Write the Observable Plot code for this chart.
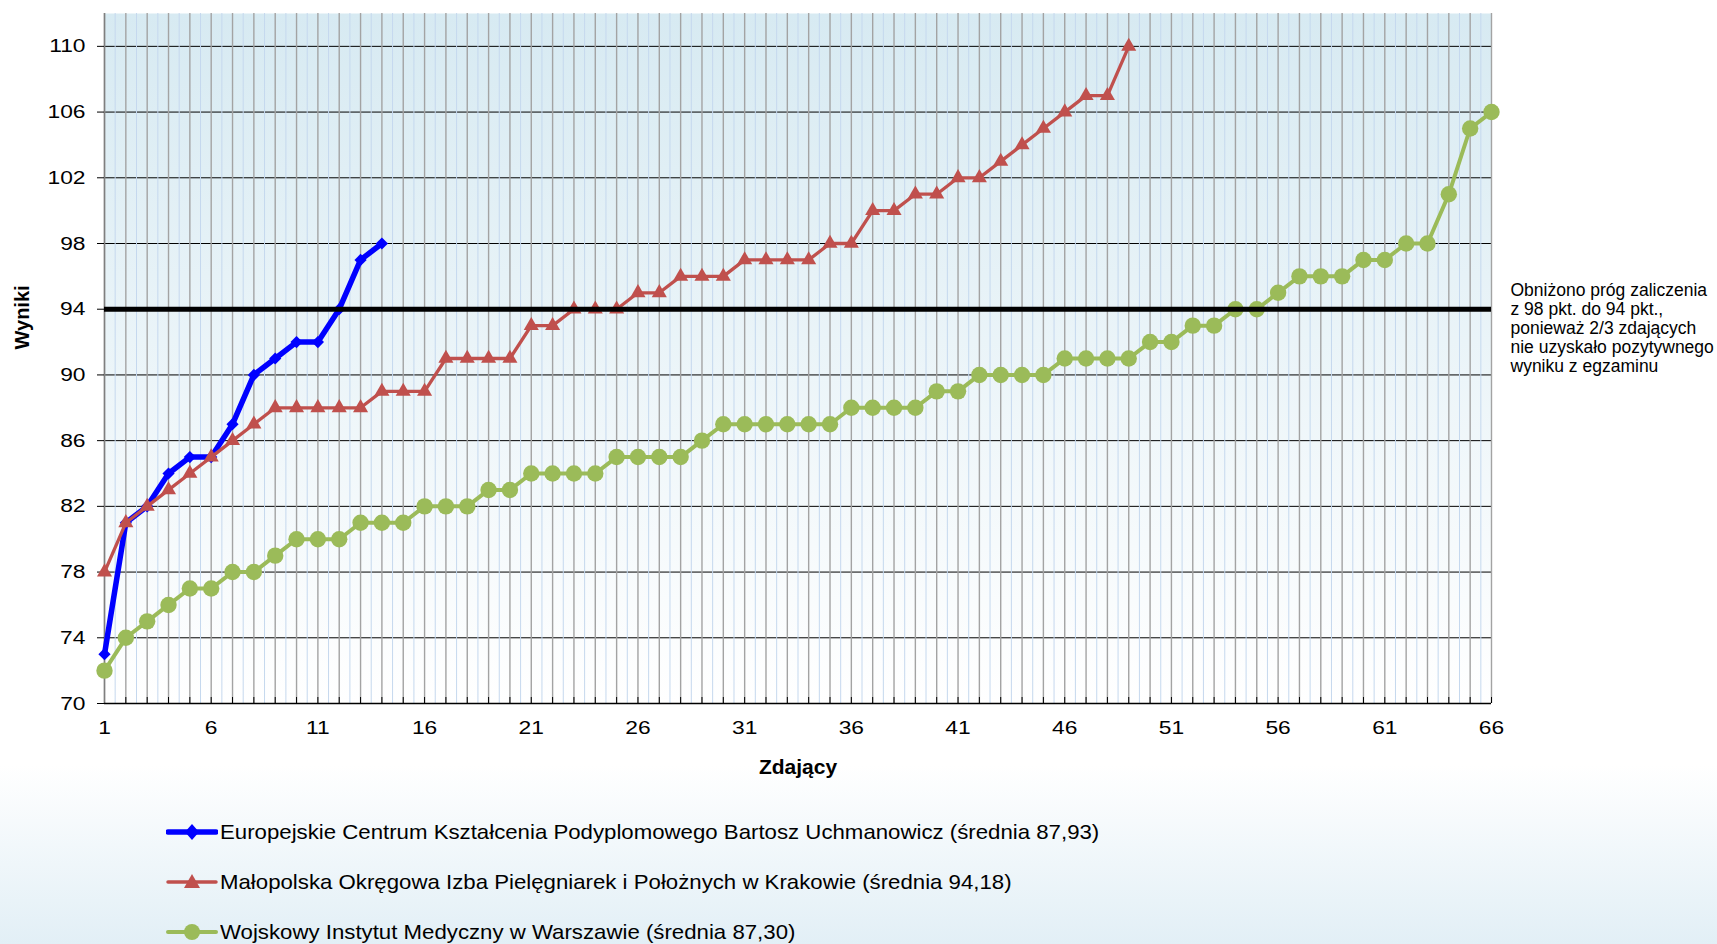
<!DOCTYPE html>
<html>
<head>
<meta charset="utf-8">
<script src="https://cdn.jsdelivr.net/npm/d3@7"></script>
<script src="https://cdn.jsdelivr.net/npm/@observablehq/plot@0.6"></script>
<style>
  html, body { margin: 0; padding: 0; }
  body {
    width: 1717px; height: 944px; overflow: hidden;
    font-family: "Liberation Sans", Arial, sans-serif;
    background: linear-gradient(to bottom, #ffffff 0px, #ffffff 765px, #e2eff6 944px);
  }
  #legend { position: relative; padding-top: 17px; }
  .row { height: 50px; display: flex; align-items: center; }
  .row svg { margin-left: 166px; width: 52px; height: 24px; flex: none; }
  .row span { margin-left: 2px; font-size: 21px; color: #000; white-space: nowrap;
    display: inline-block; transform: scaleX(1.058); transform-origin: left center; }
  #dbg { position: absolute; left: 300px; top: 300px; font-size: 12px; color: red; }
</style>
</head>
<body>
<div id="chart"></div>
<div id="legend"></div>
<script>
// ---- data ----
const seriesNames = [
  "Europejskie Centrum Kształcenia Podyplomowego Bartosz Uchmanowicz (średnia 87,93)",
  "Małopolska Okręgowa Izba Pielęgniarek i Położnych w Krakowie (średnia 94,18)",
  "Wojskowy Instytut Medyczny w Warszawie (średnia 87,30)"
];
const europejskie = [73, 81, 82, 84, 85, 85, 87, 90, 91, 92, 92, 94, 97, 98];
const malopolska = [78, 81, 82, 83, 84, 85, 86, 87, 88, 88, 88, 88, 88, 89, 89, 89, 91, 91, 91, 91,
  93, 93, 94, 94, 94, 95, 95, 96, 96, 96, 97, 97, 97, 97, 98, 98, 100, 100, 101, 101,
  102, 102, 103, 104, 105, 106, 107, 107, 110];
const wojskowy = [72, 74, 75, 76, 77, 77, 78, 78, 79, 80, 80, 80, 81, 81, 81, 82, 82, 82, 83, 83,
  84, 84, 84, 84, 85, 85, 85, 85, 86, 87, 87, 87, 87, 87, 87, 88, 88, 88, 88, 89,
  89, 90, 90, 90, 90, 91, 91, 91, 91, 92, 92, 93, 93, 94, 94, 95, 96, 96, 96, 97,
  97, 98, 98, 101, 105, 106];
const threshold = 94;
const yTicks = [70, 74, 78, 82, 86, 90, 94, 98, 102, 106, 110];
const xLabelTicks = [1, 6, 11, 16, 21, 26, 31, 36, 41, 46, 51, 56, 61, 66];
const xDomain = [1, 66];
const yDomain = [70, 112];
const note = "Obniżono próg zaliczenia\nz 98 pkt. do 94 pkt.,\nponieważ 2/3 zdających\nnie uzyskało pozytywnego\nwyniku z egzaminu";
const yTitle = "Wyniki";
const xTitle = "Zdający";

const colors = ["#0000ff", "#c0504d", "#9bbb59"];
const toRows = (arr) => arr.map((v, i) => ({x: i + 1, y: v}));
const s1 = toRows(europejskie), s2 = toRows(malopolska), s3 = toRows(wojskowy);
const intGrid = d3.range(xDomain[0], xDomain[1] + 1);
const halfGrid = d3.range(xDomain[0] + 0.5, xDomain[1], 1);

const defsMark = () => {
  const ns = "http://www.w3.org/2000/svg";
  const g = document.createElementNS(ns, "defs");
  g.innerHTML = '<linearGradient id="plotBg" x1="0" y1="0" x2="0" y2="1">' +
    '<stop offset="0" stop-color="#d7eaf2"/><stop offset="1" stop-color="#ffffff"/></linearGradient>';
  return g;
};

const chart = Plot.plot({
  width: 1717,
  height: 790,
  marginLeft: 104,
  marginRight: 226,
  marginTop: 13,
  marginBottom: 87,
  style: {fontFamily: "'Liberation Sans', Arial, sans-serif", fontSize: "19px", background: "transparent", color: "#000"},
  x: {domain: xDomain},
  y: {domain: yDomain},
  marks: [
    defsMark,
    Plot.frame({fill: "url(#plotBg)", stroke: null}),
    Plot.ruleY(yTicks.slice(1), {stroke: "#000", strokeWidth: 1}),
    Plot.ruleX(halfGrid, {stroke: "#c5d8ee", strokeWidth: 1}),
    Plot.ruleX(intGrid, {stroke: "#a3a3a3", strokeWidth: 1.4}),
    Plot.axisX({ticks: intGrid, tickSize: -6, tickFormat: () => "", stroke: "#000", label: null}),
    Plot.ruleX([xDomain[0]], {stroke: "#7f7f7f", strokeWidth: 1.5}),
    Plot.ruleY([yDomain[0]], {stroke: "#000", strokeWidth: 1.5}),
    Plot.axisY({ticks: yTicks, tickSize: 7, tickPadding: 12, fontSize: 19, label: null, stroke: "#000"}),
    Plot.axisX({ticks: xLabelTicks, tickSize: 0, tickPadding: 17, fontSize: 19, label: null}),
    // series
    Plot.line(s1, {x: "x", y: "y", stroke: colors[0], strokeWidth: 5.5}),
    Plot.dot(s1, {x: "x", y: "y", symbol: "diamond2", r: 5.5, fill: colors[0], stroke: null}),
    Plot.line(s2, {x: "x", y: "y", stroke: colors[1], strokeWidth: 3.3}),
    Plot.dot(s2, {x: "x", y: "y", symbol: "triangle", r: 5.6, fill: colors[1], stroke: null}),
    Plot.line(s3, {x: "x", y: "y", stroke: colors[2], strokeWidth: 4}),
    Plot.dot(s3, {x: "x", y: "y", symbol: "circle", r: 8.2, fill: colors[2], stroke: null}),
    Plot.ruleY([threshold], {stroke: "#000", strokeWidth: 5}),
    // annotation
    Plot.text([note], {x: xDomain[1], y: threshold, dx: 19, dy: 19, textAnchor: "start", lineAnchor: "middle",
      lineHeight: 1.08, fontSize: 17.5, fill: "#000"}),
    // axis titles
    Plot.text([yTitle], {frameAnchor: "left", dx: -82, dy: -9, rotate: -90, fontWeight: "bold", fontSize: 20, fill: "#000"}),
    Plot.text([xTitle], {frameAnchor: "bottom", dy: 70, fontWeight: "bold", fontSize: 21, fill: "#000"})
  ]
});
document.getElementById("chart").appendChild(chart);

// widen tick labels horizontally around their anchor, as in the reference
function stretch(sel, s) {
  chart.querySelectorAll(sel).forEach((t) => {
    const b = t.getBBox();
    const anchor = getComputedStyle(t).textAnchor;
    const ax = anchor === "end" ? b.x + b.width : anchor === "middle" ? b.x + b.width / 2 : b.x;
    const tr = t.getAttribute("transform") || "";
    t.setAttribute("transform", `${tr} translate(${ax},0) scale(${s},1) translate(${-ax},0)`.trim());
  });
}
stretch('g[aria-label="y-axis tick label"] text, g[aria-label="x-axis tick label"] text', 1.2);

// legend
const legend = document.getElementById("legend");
const symbols = [
  '<path d="M26,4 L33,12 L26,20 L19,12 Z" />',
  '<path d="M26,4 L34,18 L18,18 Z" />',
  '<circle cx="26" cy="12" r="8" />'
];
const widths = [5.5, 3.5, 4];
seriesNames.forEach((name, i) => {
  const row = document.createElement("div");
  row.className = "row";
  row.innerHTML = `<svg viewBox="0 0 52 24"><line x1="2" x2="50" y1="12" y2="12" stroke="${colors[i]}" stroke-width="${widths[i]}" stroke-linecap="round"/><g fill="${colors[i]}">${symbols[i]}</g></svg><span>${name}</span>`;
  legend.appendChild(row);
});
</script>
</body>
</html>
